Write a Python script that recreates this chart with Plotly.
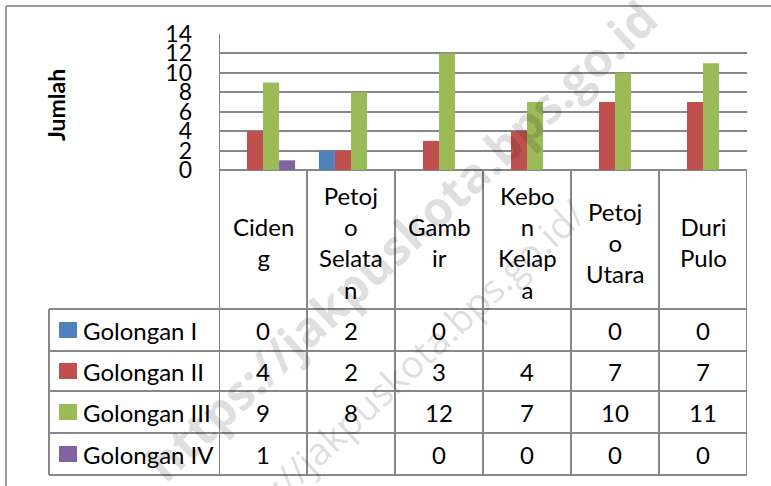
import plotly.graph_objects as go

W, H = 771, 486

categories = ["Cideng", "Petojo Selatan", "Gambir", "Kebon Kelapa", "Petojo Utara", "Duri Pulo"]
category_labels = ["Ciden<br>g", "Petoj<br>o<br>Selata<br>n", "Gamb<br>ir",
                   "Kebo<br>n<br>Kelap<br>a", "Petoj<br>o<br>Utara", "Duri<br>Pulo"]
series_names = ["Golongan I", "Golongan II", "Golongan III", "Golongan IV"]
golongan_1 = [0, 2, 0, None, 0, 0]
golongan_2 = [4, 2, 3, 4, 7, 7]
golongan_3 = [9, 8, 12, 7, 10, 11]
golongan_4 = [1, None, 0, 0, 0, 0]
series_values = [golongan_1, golongan_2, golongan_3, golongan_4]
series_colors = ["#4F81BD", "#C0504D", "#9BBB59", "#8064A2"]
y_ticks = [0, 2, 4, 6, 8, 10, 12, 14]
y_title = "Jumlah"
watermark = "https://jakpuskota.bps.go.id"

FONT = "Lato"
GRID = "#878787"


def px(x):
    return x / W


def py(y):
    return 1 - y / H


fig = go.Figure()
for name, vals, col in zip(series_names, series_values, series_colors):
    fig.add_trace(go.Bar(x=categories, y=vals, name=name, marker=dict(color=col, line=dict(width=0)),
                         showlegend=False, hoverinfo="skip"))

shapes = []
annotations = []

plot_top, plot_bottom = 34, 170
row_lines = [309, 351, 391, 433, 475]
legend_left = 49

n = len(categories)
for i in range(n + 1):
    x = i - 0.5
    shapes.append(dict(type="line", xref="x", yref="paper", x0=x, x1=x,
                       y0=py(plot_top if i == 0 else plot_bottom), y1=py(row_lines[-1]),
                       line=dict(color=GRID, width=2), layer="above"))
shapes.append(dict(type="line", xref="paper", yref="paper", x0=px(legend_left), x1=px(legend_left),
                   y0=py(row_lines[0]), y1=py(row_lines[-1]), line=dict(color=GRID, width=2)))
for r in row_lines:
    shapes.append(dict(type="line", xref="paper", yref="paper", x0=px(legend_left), x1=px(747),
                       y0=py(r), y1=py(r), line=dict(color=GRID, width=2)))

for cat, lab in zip(categories, category_labels):
    annotations.append(dict(x=cat, xref="x", y=py(242), yref="paper", text=lab, showarrow=False,
                            font=dict(family=FONT, size=24, color="#000"), align="center",
                            xanchor="center", yanchor="middle"))

for k, (name, vals, col) in enumerate(zip(series_names, series_values, series_colors)):
    top, bot = row_lines[k], row_lines[k + 1]
    cy = (top + bot) / 2
    shapes.append(dict(type="rect", xref="paper", yref="paper", x0=px(59), x1=px(77),
                       y0=py(cy + 8), y1=py(cy - 8), fillcolor=col, line=dict(width=0)))
    annotations.append(dict(x=px(81), xref="paper", y=py(cy), yref="paper", text=name, showarrow=False,
                            font=dict(family=FONT, size=24, color="#000"), xanchor="left", yanchor="middle"))
    for cat, v in zip(categories, vals):
        if v is None:
            continue
        annotations.append(dict(x=cat, xref="x", y=py(cy), yref="paper", text=str(v), showarrow=False,
                                font=dict(family=FONT, size=24, color="#000"), xanchor="center",
                                yanchor="middle"))

annotations.append(dict(x=px(56), xref="paper", y=py(105), yref="paper", text="<b>" + y_title + "</b>",
                        textangle=-90, showarrow=False, font=dict(family=FONT, size=23, color="#000"),
                        xanchor="center", yanchor="middle"))

shapes.append(dict(type="line", xref="paper", yref="paper", x0=px(6), x1=1, y0=py(6), y1=py(6),
                   line=dict(color="#9a9a9a", width=2)))
shapes.append(dict(type="line", xref="paper", yref="paper", x0=px(6), x1=px(6), y0=py(6), y1=0,
                   line=dict(color="#9a9a9a", width=2)))

annotations.append(dict(x=px(400), xref="paper", y=py(240), yref="paper", text="<b>" + watermark + "</b>",
                        textangle=-43, showarrow=False,
                        font=dict(family="Open Sans", size=48, color="rgba(0,0,0,0.14)"),
                        xanchor="center", yanchor="middle"))
annotations.append(dict(x=px(392), xref="paper", y=py(380), yref="paper", text=watermark + "/",
                        textangle=-43, showarrow=False,
                        font=dict(family="Open Sans", size=38, color="rgba(0,0,0,0.15)"),
                        xanchor="center", yanchor="middle"))

fig.update_layout(
    width=W, height=H, margin=dict(l=0, r=0, t=0, b=0, autoexpand=False),
    paper_bgcolor="white", plot_bgcolor="white",
    barmode="group", bargap=0.27, bargroupgap=0,
    shapes=shapes, annotations=annotations,
    xaxis=dict(domain=[px(219), px(747)], range=[-0.5, n - 0.5], showticklabels=False, automargin=False,
               showgrid=False, zeroline=False, showline=False, fixedrange=True),
    yaxis=dict(domain=[py(plot_bottom), py(plot_top)], range=[0, 14], tickvals=y_ticks, automargin=False,
               showgrid=True, gridcolor=GRID, gridwidth=1.5, zeroline=True, zerolinecolor=GRID,
               zerolinewidth=2, showline=False, ticks="", ticklabelstandoff=26,
               tickfont=dict(family=FONT, size=23, color="#000"), fixedrange=True),
)

fig.write_html("out.html", config={"displayModeBar": False},
               post_script="document.body.style.margin='0px';document.body.style.overflow='hidden';")
